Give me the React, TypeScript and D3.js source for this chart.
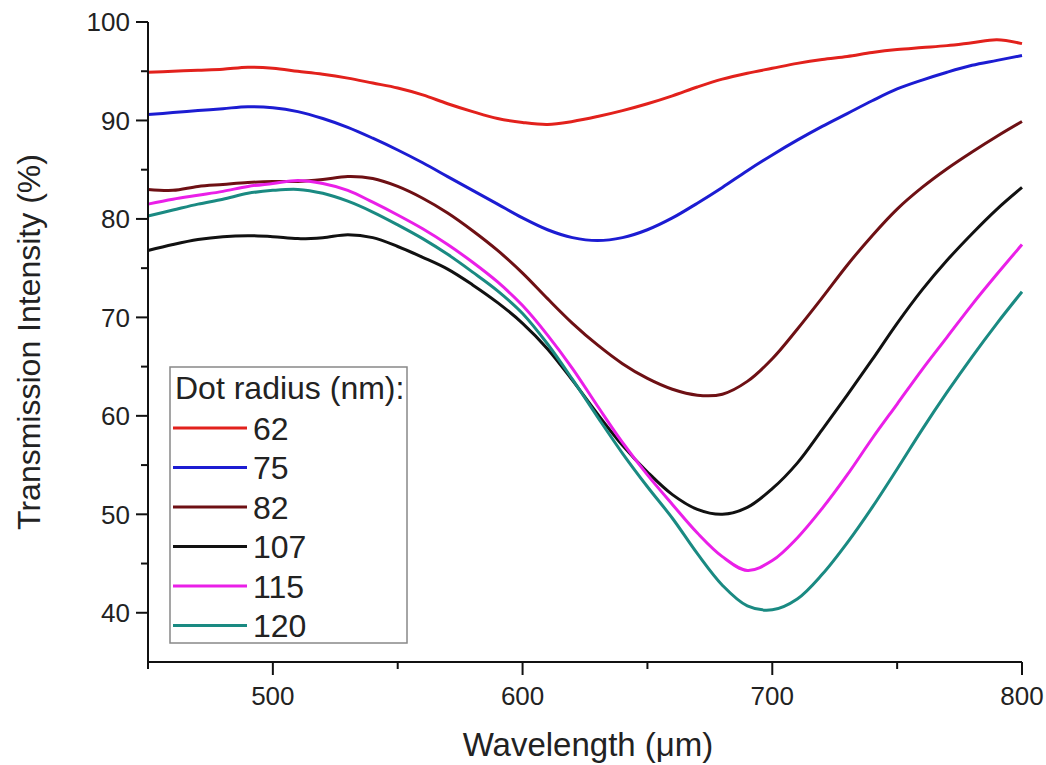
import React from "react";
import * as d3 from "d3";

const wavelengths = [450, 460, 470, 480, 490, 500, 510, 520, 530, 540, 550, 560, 570, 580, 590, 600, 610, 620, 630, 640, 650, 660, 670, 680, 690, 700, 710, 720, 730, 740, 750, 760, 770, 780, 790, 800];

const r62 = [94.9, 95.0, 95.1, 95.2, 95.4, 95.3, 95.0, 94.7, 94.3, 93.8, 93.3, 92.6, 91.7, 90.9, 90.2, 89.8, 89.6, 89.9, 90.4, 91.0, 91.7, 92.5, 93.4, 94.2, 94.8, 95.3, 95.8, 96.2, 96.5, 96.9, 97.2, 97.4, 97.6, 97.9, 98.2, 97.8];
const r75 = [90.6, 90.8, 91.0, 91.2, 91.4, 91.3, 90.9, 90.2, 89.3, 88.2, 87.0, 85.7, 84.3, 82.9, 81.5, 80.1, 78.9, 78.1, 77.8, 78.1, 78.9, 80.1, 81.6, 83.2, 84.9, 86.5, 88.0, 89.4, 90.7, 92.0, 93.2, 94.1, 94.9, 95.6, 96.1, 96.6];
const r82 = [83.0, 82.9, 83.3, 83.5, 83.7, 83.8, 83.8, 84.0, 84.3, 84.1, 83.3, 82.1, 80.6, 78.8, 76.8, 74.5, 71.9, 69.4, 67.2, 65.3, 63.8, 62.7, 62.1, 62.2, 63.5, 65.8, 68.8, 72.0, 75.3, 78.3, 81.0, 83.2, 85.1, 86.8, 88.4, 89.9];
const r107 = [76.8, 77.4, 77.9, 78.2, 78.3, 78.2, 78.0, 78.1, 78.4, 78.1, 77.2, 76.1, 74.9, 73.3, 71.5, 69.4, 66.8, 63.6, 60.2, 57.0, 54.3, 52.0, 50.5, 50.0, 50.7, 52.6, 55.2, 58.6, 62.1, 65.7, 69.4, 72.8, 75.8, 78.5, 81.0, 83.2];
const r115 = [81.5, 82.0, 82.4, 82.8, 83.3, 83.6, 83.9, 83.6, 82.9, 81.7, 80.4, 79.0, 77.4, 75.6, 73.6, 71.2, 68.2, 64.8, 61.0, 57.3, 54.0, 51.0, 48.1, 45.7, 44.3, 45.3, 47.6, 50.6, 54.0, 57.7, 61.2, 64.7, 68.0, 71.3, 74.4, 77.4];
const r120 = [80.3, 80.9, 81.5, 82.0, 82.6, 82.9, 83.0, 82.6, 81.8, 80.7, 79.4, 78.0, 76.4, 74.6, 72.7, 70.4, 67.3, 63.7, 59.9, 56.2, 52.8, 49.6, 46.0, 42.8, 40.7, 40.3, 41.4, 43.9, 47.1, 50.7, 54.6, 58.6, 62.4, 66.0, 69.4, 72.6];

const seriesLabels = ["62", "75", "82", "107", "115", "120"];
const seriesValues = [r62, r75, r82, r107, r115, r120];
const seriesColors = ["#e2211c", "#1c1cd2", "#6e1014", "#111111", "#ea1fe8", "#1a8a82"];

const xMajorTicks = [500, 600, 700, 800];
const xMinorTicks = [450, 550, 650, 750];
const yMajorTicks = [40, 50, 60, 70, 80, 90, 100];
const yMinorTicks = [45, 55, 65, 75, 85, 95];

const FONT = "'Liberation Sans', Arial, Helvetica, sans-serif";

export default function App() {
  const x = d3.scaleLinear().domain([450, 800]).range([148, 1022]);
  const y = d3.scaleLinear().domain([35, 100]).range([662, 22]);

  const line = d3
    .line<[number, number]>()
    .x((d) => x(d[0]))
    .y((d) => y(d[1]))
    .curve(d3.curveCatmullRom.alpha(0.5));

  const legendX = 170;
  const legendY = 367;
  const legendW = 237;
  const legendH = 276;

  return (
    <svg
      width={1046}
      height={765}
      style={{ position: "absolute", left: 0, top: 0, background: "#fff" }}
      fontFamily={FONT}
    >
      <rect x={0} y={0} width={1046} height={765} fill="#fff" />
      {seriesValues.map((vals, i) => (
        <path
          key={seriesLabels[i]}
          d={line(wavelengths.map((w, j) => [w, vals[j]] as [number, number])) || ""}
          fill="none"
          stroke={seriesColors[i]}
          strokeWidth={3}
          strokeLinejoin="round"
        />
      ))}

      <line x1={x(450)} x2={x(450)} y1={y(100)} y2={y(35)} stroke="#111" strokeWidth={2} />
      <line x1={x(450)} x2={x(800)} y1={y(35)} y2={y(35)} stroke="#111" strokeWidth={2} />
      {yMajorTicks.map((t) => (
        <g key={"ym" + t}>
          <line x1={x(450) - 12} x2={x(450)} y1={y(t)} y2={y(t)} stroke="#111" strokeWidth={2} />
          <text x={130} y={y(t)} dy="0.36em" textAnchor="end" fontSize={26} fill="#222">
            {t}
          </text>
        </g>
      ))}
      {yMinorTicks.map((t) => (
        <line key={"yn" + t} x1={x(450) - 7} x2={x(450)} y1={y(t)} y2={y(t)} stroke="#111" strokeWidth={2} />
      ))}
      {xMajorTicks.map((t) => (
        <g key={"xm" + t}>
          <line x1={x(t)} x2={x(t)} y1={y(35)} y2={y(35) + 13} stroke="#111" strokeWidth={2} />
          <text x={x(t)} y={705} textAnchor="middle" fontSize={26} fill="#222">
            {t}
          </text>
        </g>
      ))}
      {xMinorTicks.map((t) => (
        <line key={"xn" + t} x1={x(t)} x2={x(t)} y1={y(35)} y2={y(35) + 7} stroke="#111" strokeWidth={2} />
      ))}

      <text x={588} y={756} textAnchor="middle" fontSize={33} fill="#222">
        Wavelength (μm)
      </text>
      <text
        transform={`translate(40, 342) rotate(-90)`}
        textAnchor="middle"
        fontSize={32}
        fill="#222"
      >
        Transmission Intensity (%)
      </text>

      <rect x={legendX} y={legendY} width={legendW} height={legendH} fill="#fff" stroke="#888" strokeWidth={1.5} />
      <text x={legendX + 5} y={legendY + 32} fontSize={32} fill="#222">
        Dot radius (nm):
      </text>
      {seriesLabels.map((lab, i) => {
        const cy = legendY + 61 + i * 39.5;
        return (
          <g key={"lg" + lab}>
            <line x1={legendX + 3} x2={legendX + 77} y1={cy} y2={cy} stroke={seriesColors[i]} strokeWidth={3} />
            <text x={legendX + 83} y={cy} dy="0.36em" fontSize={32} fill="#222">
              {lab}
            </text>
          </g>
        );
      })}
    </svg>
  );
}
